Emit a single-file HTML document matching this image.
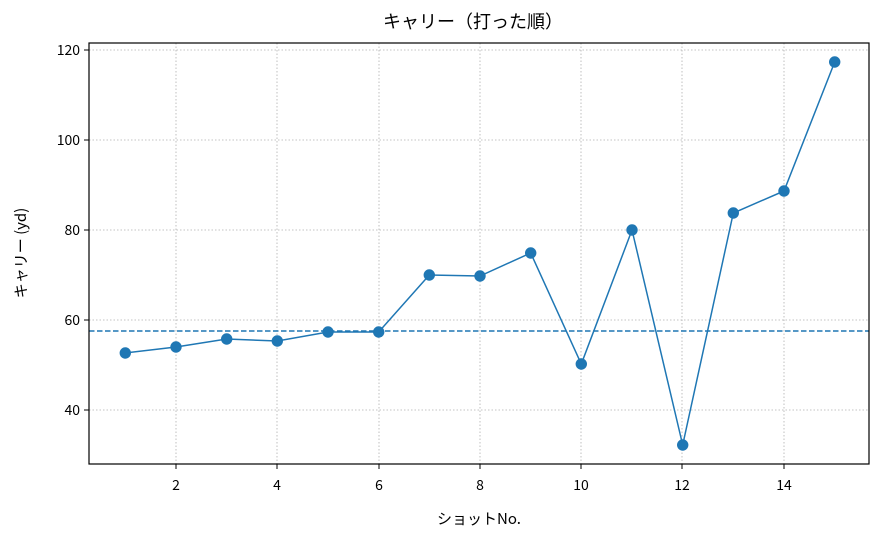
<!DOCTYPE html>
<html><head><meta charset="utf-8"><style>
body{margin:0;background:#fff;}
svg{display:block;font-family:"Noto Sans CJK JP","Liberation Sans",sans-serif;}
</style></head><body>
<svg width="884" height="541" xmlns="http://www.w3.org/2000/svg">
<rect width="884" height="541" fill="#fff"/>
<g stroke="#b0b0b0" stroke-width="0.8" stroke-dasharray="1.5,2">
<line x1="176" y1="43" x2="176" y2="464"/><line x1="277" y1="43" x2="277" y2="464"/>
<line x1="379" y1="43" x2="379" y2="464"/><line x1="480" y1="43" x2="480" y2="464"/>
<line x1="581" y1="43" x2="581" y2="464"/><line x1="682" y1="43" x2="682" y2="464"/>
<line x1="784" y1="43" x2="784" y2="464"/>
<line x1="89" y1="50" x2="869" y2="50"/><line x1="89" y1="140" x2="869" y2="140"/>
<line x1="89" y1="230" x2="869" y2="230"/><line x1="89" y1="320" x2="869" y2="320"/>
<line x1="89" y1="410" x2="869" y2="410"/>
</g>
<line x1="89" y1="331" x2="869" y2="331" stroke="#1f77b4" stroke-width="1.5" stroke-dasharray="5.5,2.5"/>
<polyline fill="none" stroke="#1f77b4" stroke-width="1.5" points="125.3,353 176,347 226.7,339 277.3,341 328,332 378.7,332 429.3,275 480,276 530.7,253 581.3,364 632,230 682.7,445 733.3,213 784,191 834.7,62"/>
<g fill="#1f77b4">
<circle cx="125.3" cy="353" r="5.7"/><circle cx="176" cy="347" r="5.7"/><circle cx="226.7" cy="339" r="5.7"/>
<circle cx="277.3" cy="341" r="5.7"/><circle cx="328" cy="332" r="5.7"/><circle cx="378.7" cy="332" r="5.7"/>
<circle cx="429.3" cy="275" r="5.7"/><circle cx="480" cy="276" r="5.7"/><circle cx="530.7" cy="253" r="5.7"/>
<circle cx="581.3" cy="364" r="5.7"/><circle cx="632" cy="230" r="5.7"/><circle cx="682.7" cy="445" r="5.7"/>
<circle cx="733.3" cy="213" r="5.7"/><circle cx="784" cy="191" r="5.7"/><circle cx="834.7" cy="62" r="5.7"/>
</g>
<rect x="89" y="43" width="780" height="421" fill="none" stroke="#000" stroke-width="1.2"/>
<g stroke="#000" stroke-width="1">
<line x1="176" y1="464" x2="176" y2="469"/><line x1="277" y1="464" x2="277" y2="469"/>
<line x1="379" y1="464" x2="379" y2="469"/><line x1="480" y1="464" x2="480" y2="469"/>
<line x1="581" y1="464" x2="581" y2="469"/><line x1="682" y1="464" x2="682" y2="469"/>
<line x1="784" y1="464" x2="784" y2="469"/>
<line x1="84" y1="50" x2="89" y2="50"/><line x1="84" y1="140" x2="89" y2="140"/>
<line x1="84" y1="230" x2="89" y2="230"/><line x1="84" y1="320" x2="89" y2="320"/>
<line x1="84" y1="410" x2="89" y2="410"/>
</g>
<g font-size="14" fill="#000" text-anchor="middle">
<text x="176" y="490">2</text><text x="277" y="490">4</text><text x="379" y="490">6</text>
<text x="480" y="490">8</text><text x="581" y="490">10</text><text x="682" y="490">12</text>
<text x="784" y="490">14</text>
</g>
<g font-size="14" fill="#000" text-anchor="end">
<text x="80" y="55">120</text><text x="80" y="145">100</text><text x="80" y="235">80</text>
<text x="80" y="325">60</text><text x="80" y="415">40</text>
</g>
<text x="479" y="524" font-size="15" text-anchor="middle">ショットNo.</text>
<text transform="translate(26,253) rotate(-90)" font-size="15" text-anchor="middle">キャリー (yd)</text>
<text x="473" y="28" font-size="18" text-anchor="middle">キャリー（打った順）</text>
</svg>
</body></html>
